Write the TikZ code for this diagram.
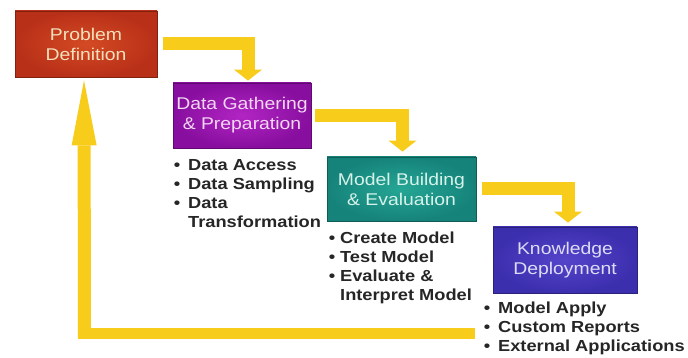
\documentclass[tikz,border=0pt]{standalone}
\usepackage{fontspec}
\setmainfont{Liberation Sans}[FakeStretch=1.14]
\usetikzlibrary{arrows.meta}
\definecolor{yel}{HTML}{F8CC1B}
\definecolor{redo}{HTML}{B83018}
\definecolor{redi}{HTML}{D44A24}
\definecolor{puro}{HTML}{870E9E}
\definecolor{puri}{HTML}{B225C4}
\definecolor{teao}{HTML}{16837A}
\definecolor{teai}{HTML}{25A695}
\definecolor{bluo}{HTML}{3C2FAE}
\definecolor{blui}{HTML}{5444CA}
\definecolor{tred}{HTML}{F3DFBC}
\definecolor{tpur}{HTML}{F2D6F2}
\definecolor{ttea}{HTML}{D6F2EA}
\definecolor{tblu}{HTML}{DCDCF4}
\begin{document}
\begin{tikzpicture}[x=1pt,y=-1pt,
  stage/.style={line width=0.8pt, inner sep=0pt, align=center,
    font=\fontsize{17}{20}\selectfont, shading=radial},
  bullets/.style={inner sep=0pt, anchor=north west, align=left,
    font=\fontsize{16}{19}\selectfont\bfseries, text=black!85},
  yarrow/.style={draw=yel, line width=13pt, line join=miter,
    -{Triangle[width=28pt,length=11pt,line width=0pt]}},
  rarrow/.style={draw=yel, line width=13pt,
    -{Triangle[width=25pt,length=65pt,line width=0pt]}}]
\useasboundingbox[fill=white] (0,0) rectangle (688,358);

\node[stage, draw=redo!70!black, inner color=redi, outer color=redo, text=tred,
  minimum width=142pt, minimum height=66pt] (pd) at (86,44) {Problem\\Definition};
\node[stage, draw=puro!70!black, inner color=puri, outer color=puro, text=tpur,
  minimum width=138pt, minimum height=65pt] (dg) at (242,115.5) {Data Gathering\\\& Preparation};
\node[stage, draw=teao!70!black, inner color=teai, outer color=teao, text=ttea,
  minimum width=149pt, minimum height=64pt] (mb) at (401.5,189) {Model Building\\\& Evaluation};
\node[stage, draw=bluo!70!black, inner color=blui, outer color=bluo, text=tblu,
  minimum width=144pt, minimum height=66pt] (kd) at (565,260) {Knowledge\\Deployment};

\node[bullets] (l1) at ([xshift=1pt,yshift=-9pt]dg.south west)
  {\begin{tabular}{@{}l@{\hspace{8pt}}l@{}}\textbullet&Data Access\\\textbullet&Data Sampling\\\textbullet&Data\\&Transformation\end{tabular}};
\node[bullets] (l2) at ([xshift=2pt,yshift=-8.5pt]mb.south west)
  {\begin{tabular}{@{}l@{\hspace{5pt}}l@{}}\textbullet&Create Model\\\textbullet&Test Model\\\textbullet&Evaluate \&\\&Interpret Model\end{tabular}};
\node[bullets] (l3) at ([xshift=-9pt,yshift=-7pt]kd.south west)
  {\begin{tabular}{@{}l@{\hspace{8pt}}l@{}}\textbullet&Model Apply\\\textbullet&Custom Reports\\\textbullet&External Applications\end{tabular}};

\draw[yarrow] ([xshift=6pt]pd.east) -| ([xshift=6pt,yshift=2pt]dg.north);
\draw[yarrow] ([xshift=4pt]dg.east) -| ([xshift=1pt,yshift=5pt]mb.north);
\draw[yarrow] ([xshift=6pt]mb.east) -| ([xshift=3pt,yshift=4pt]kd.north);

\coordinate (ret) at (475,333);
\coordinate (corner) at (84.5,333);
\draw[draw=yel, line width=11pt] (ret) -- ([xshift=-6.5pt]corner);
\draw[rarrow] ([yshift=-5.5pt]corner) -- ([xshift=-2pt,yshift=-3pt]pd.south);
\end{tikzpicture}
\end{document}
